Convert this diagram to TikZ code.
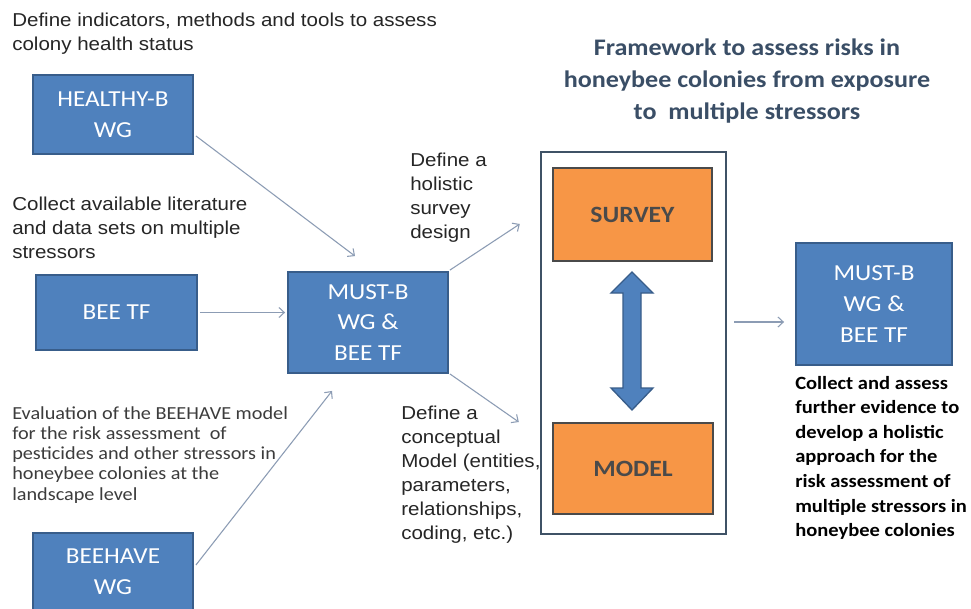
\documentclass[tikz,border=0pt]{standalone}
\usepackage{fontspec}
\usetikzlibrary{arrows.meta,calc}
\newfontfamily\arialf[FakeStretch=1.1]{Liberation Sans}
\newfontfamily\calf[FakeStretch=1.1]{Carlito}
\definecolor{boxblue}{HTML}{4F81BD}
\definecolor{boxborder}{HTML}{385D8A}
\definecolor{orangefill}{HTML}{F79646}
\definecolor{orangeborder}{HTML}{4A4A4A}
\definecolor{framec}{HTML}{3F5266}
\definecolor{titlec}{HTML}{3A4E66}
\definecolor{arrowc}{HTML}{8C9CB4}
\definecolor{txtc}{HTML}{262626}
\tikzset{
  bluebox/.style={draw=boxborder, line width=1.4pt, fill=boxblue, text=white,
    font=\calf\fontsize{17.2}{23}\selectfont, align=center, inner sep=0pt},
  orangebox/.style={draw=orangeborder, line width=1.6pt, fill=orangefill, text=orangeborder,
    font=\calf\bfseries\fontsize{17.5}{22}\selectfont, inner sep=0pt},
  framebox/.style={draw=framec, line width=1.8pt, fill=none, inner sep=0pt},
  desc/.style={anchor=north west, align=left, inner sep=0pt, text=txtc,
    font=\arialf\fontsize{14}{18}\selectfont},
  descc/.style={anchor=north west, align=left, inner sep=0pt, text=txtc!90!white,
    font=\calf\fontsize{13.8}{15.2}\selectfont},
  descb/.style={anchor=north west, align=left, inner sep=0pt, text=black,
    font=\calf\bfseries\fontsize{14}{18.4}\selectfont},
  titlestyle/.style={anchor=north, align=center, inner sep=0pt, text=titlec,
    font=\calf\bfseries\fontsize{17.8}{24}\selectfont},
  conn/.style={draw=arrowc, line width=0.8pt, -{Straight Barb[length=4pt,width=7.5pt]}},
  dblarrow/.style={draw=boxborder, line width=1pt, fill=boxblue}
}
\begin{document}
\begin{tikzpicture}[x=0.75pt,y=-0.75pt]
\useasboundingbox[fill=white] (0,0) rectangle (971,608);

% texts
\node[desc] (t1) at (12,13) {Define indicators, methods and tools to assess\\colony health status};
\node[desc] (t2) at (12,197) {Collect available literature\\and data sets on multiple\\stressors};
\node[descc] (t3) at (12,406) {Evaluation of the BEEHAVE model\\for the risk assessment\ \ of\\pesticides and other stressors in\\honeybee colonies at the\\landscape level};
\node[desc] (t4) at (410,153) {Define a\\holistic\\survey\\design};
\node[desc] (t5) at (401,406) {Define a\\conceptual\\Model (entities,\\parameters,\\relationships,\\coding, etc.)};
\node[titlestyle] (title) at (747,39) {Framework to assess risks in\\honeybee colonies from exposure\\to\ \ multiple stressors};
\node[descb] (t6) at (795,376) {Collect and assess\\further evidence to\\develop a holistic\\approach for the\\risk assessment of\\multiple stressors in\\honeybee colonies};

% boxes
\node[bluebox, minimum width=120pt, minimum height=59.25pt] (healthy) at (113,114.5) {HEALTHY-B\\WG};
\node[bluebox, minimum width=120.75pt, minimum height=56.25pt] (beetf) at (116.5,312.5) {BEE TF};
\node[bluebox, minimum width=120pt, minimum height=75.75pt] (mustb) at (368,322.5) {MUST-B\\WG \&\\BEE TF};
\node[bluebox, minimum width=120pt, minimum height=58.5pt] (beehave) at (113,572) {BEEHAVE\\WG};
\node[framebox, minimum width=138.75pt, minimum height=286.5pt] (frame) at (633.5,343) {};
\node[orangebox, minimum width=119.25pt, minimum height=69.75pt] (survey) at (632.5,214.5) {SURVEY};
\node[orangebox, minimum width=120pt, minimum height=68.25pt] (model) at (633,468.5) {MODEL};
\node[bluebox, minimum width=117pt, minimum height=91.5pt] (mustb2) at (874,304) {MUST-B\\WG \&\\BEE TF};

% double arrow between survey and model
\draw[dblarrow] (632,272) -- (653,293) -- (641,293) -- (641,388) -- (653,388) -- (632,410)
  -- (611,388) -- (623,388) -- (623,293) -- (611,293) -- cycle;

% connectors
\draw[conn] ([shift={(2,-19)}]healthy.south east) -- ([shift={(-13,-15)}]mustb.north);
\draw[conn] ([xshift=1.5pt]beetf.east) -- ($(mustb.west |- beetf.east)+(-2,0)$);
\draw[conn] ([shift={(2,-7)}]beehave.east) -- ([shift={(-36,17)}]mustb.south);
\draw[conn] ([shift={(1,-1)}]mustb.north east) -- ([shift={(-20,-119)}]frame.west);
\draw[conn] ([shift={(1,0)}]mustb.south east) -- ([shift={(-21,79)}]frame.west);
\draw[conn] ([shift={(7,-21)}]frame.east) -- ([shift={(-11,18)}]mustb2.west);
\end{tikzpicture}
\end{document}
